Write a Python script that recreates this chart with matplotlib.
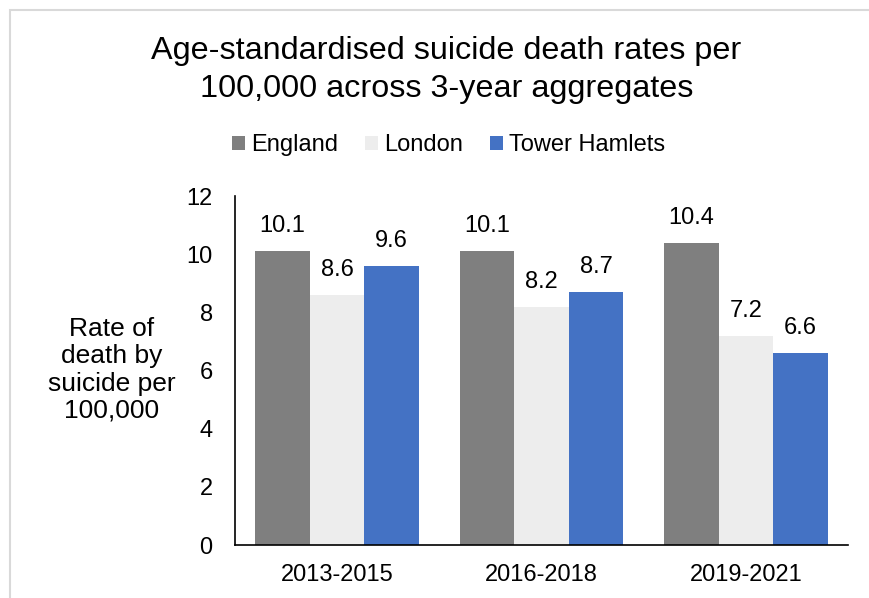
import matplotlib
matplotlib.use("Agg")
import matplotlib.pyplot as plt
from matplotlib.patches import Rectangle
import numpy as np

plt.rcParams['font.family'] = ['Liberation Sans', 'DejaVu Sans']

# data
periods = ["2013-2015", "2016-2018", "2019-2021"]
series_names = ["England", "London", "Tower Hamlets"]
england = [10.1, 10.1, 10.4]
london = [8.6, 8.2, 7.2]
tower_hamlets = [9.6, 8.7, 6.6]
colours = ["#7f7f7f", "#ededed", "#4472c4"]

fig = plt.figure(figsize=(8.7, 5.98), dpi=100)
ax = fig.add_axes([0.270, 0.0886, 0.705, 0.5836])

# chart area border (light grey, cropped at right and bottom)
fig.patches.append(Rectangle((10 / 870, -0.05), 1.2, (588 / 598) + 0.05,
                             transform=fig.transFigure, fill=False,
                             edgecolor="#d9d9d9", linewidth=1.5))

x = np.arange(len(periods))
w = 0.8 / 3
for i, (name, vals) in enumerate(zip(series_names, [england, london, tower_hamlets])):
    bars = ax.bar(x + (i - 1) * w, vals, width=w, color=colours[i], label=name)
    for b, v in zip(bars, vals):
        ax.annotate(f"{v:.1f}", (b.get_x() + b.get_width() / 2, v),
                    xytext=(0, 10), textcoords="offset points",
                    ha="center", va="bottom", fontsize=17)

ax.set_xlim(-0.5, 2.5)
ax.set_ylim(0, 12)
ax.set_yticks(range(0, 13, 2))
ax.set_xticks(x)
ax.set_xticklabels(periods)
ax.tick_params(axis="both", length=0, labelsize=17)
ax.tick_params(axis="y", pad=16)
ax.tick_params(axis="x", pad=14)
for s in ["top", "right"]:
    ax.spines[s].set_visible(False)
for s in ["left", "bottom"]:
    ax.spines[s].set_color("black")
    ax.spines[s].set_linewidth(1.2)

fig.text(111.5 / 870, (598 - 370) / 598, "Rate of\ndeath by\nsuicide per\n100,000",
         ha="center", va="center", fontsize=19, linespacing=1.17)

fig.text(0.513, 0.883, "Age-standardised suicide death rates per\n100,000 across 3-year aggregates",
         ha="center", va="center", fontsize=23.3, linespacing=1.32)

fig.legend(loc="center", bbox_to_anchor=(0.5155, 0.7575), ncol=3, frameon=False,
           fontsize=17, handlelength=0.55, handleheight=0.55, handletextpad=0.25,
           columnspacing=1.15)

fig.savefig("out.png", dpi=100)
